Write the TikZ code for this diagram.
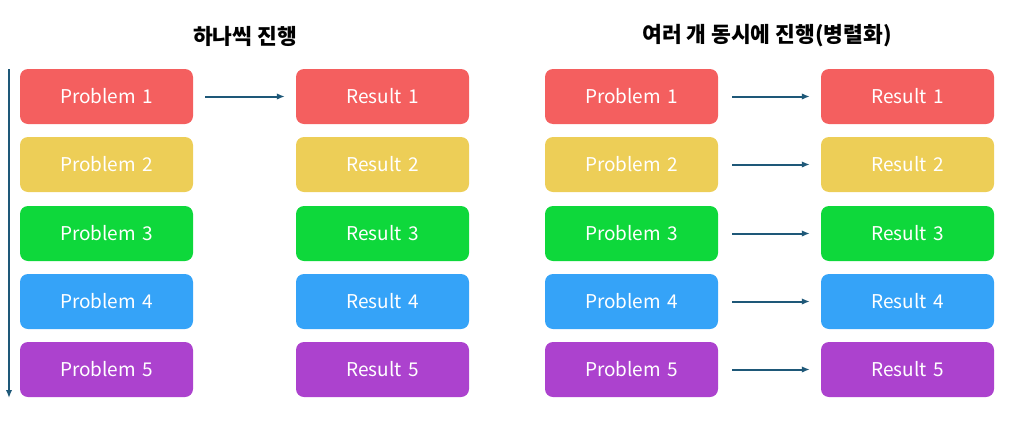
\documentclass[tikz,border=0pt]{standalone}
\usepackage{fontspec}
\setmainfont{Noto Sans CJK KR}
\usetikzlibrary{arrows.meta}
\definecolor{cred}{HTML}{F45F5F}
\definecolor{cyellow}{HTML}{EDCE57}
\definecolor{cgreen}{HTML}{0ED83B}
\definecolor{cblue}{HTML}{35A3F8}
\definecolor{cpurple}{HTML}{AC42CE}
\definecolor{carrow}{HTML}{1E5878}
\begin{document}
\begin{tikzpicture}[x=1pt,y=-1pt,
  box/.style={draw=none,rounded corners=8pt,minimum width=173pt,minimum height=55pt,text=white,font=\fontsize{19}{22}\selectfont,inner sep=0pt},
  flow/.style={draw=carrow,line width=2pt,-{Latex[length=8pt,width=6.5pt]}},
  title/.style={font=\fontsize{21.5}{24}\selectfont\bfseries}]
\useasboundingbox (0,0) rectangle (1010,426);
\node[title] (t1) at (245,36) {하나씩 진행};
\node[title] (t2) at (767,36) {여러 개 동시에 진행(병렬화)};
\foreach \i/\c/\y in {1/cred/96.5,2/cyellow/164.5,3/cgreen/233.5,4/cblue/301.5,5/cpurple/369.5}{
  \node[box,fill=\c] (lp\i) at (106.5,\y) {Problem\hspace{2pt} \i};
  \node[box,fill=\c] (lr\i) at (382.5,\y) {Result\hspace{2pt} \i};
  \node[box,fill=\c] (rp\i) at (631.5,\y) {Problem\hspace{2pt} \i};
  \node[box,fill=\c] (rr\i) at (907.5,\y) {Result\hspace{2pt} \i};
  \draw[flow] ([xshift=14pt]rp\i.east) -- ([xshift=-11pt]rr\i.west);
}
\draw[flow] ([xshift=12pt]lp1.east) -- ([xshift=-11pt]lr1.west);
\coordinate (vtop) at (9,69);
\coordinate (vbot) at (9,398);
\draw[flow] (vtop) -- (vbot);
\end{tikzpicture}
\end{document}
